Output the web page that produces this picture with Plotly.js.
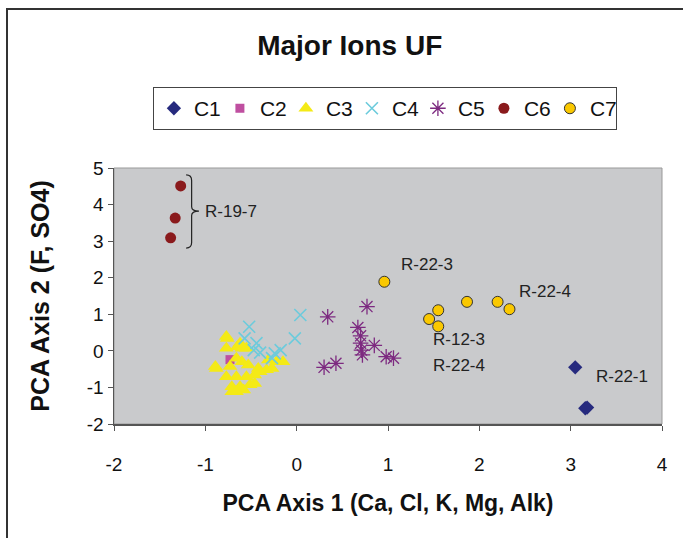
<!DOCTYPE html>
<html>
<head>
<meta charset="utf-8">
<script src="https://cdn.plot.ly/plotly-3.0.1.min.js"></script>
<style>
html,body{margin:0;padding:0;background:#fff;overflow:hidden;}
#wrap{position:relative;width:683px;height:538px;}
#chart{position:absolute;left:0;top:0;width:683px;height:538px;}
#frame{position:absolute;left:6px;top:8px;width:700px;height:600px;border-top:2px solid #333;border-left:2px solid #333;pointer-events:none;}
</style>
</head>
<body>
<div id="wrap"><div id="chart"></div><div id="frame"></div></div>
<script>
// ---- data ----
const seriesNames = ["C1","C2","C3","C4","C5","C6","C7"];

const c1X = [3.05, 3.16, 3.18];
const c1Y = [-0.45, -1.57, -1.55];

const c2X = [-0.73];
const c2Y = [-0.24];

const c3X = [-0.76,-0.77,-0.65,-0.60,-0.55,-0.66,-0.60,-0.88,-0.73,-0.53,-0.42,-0.77,-0.66,-0.55,-0.46,-0.40,-0.71,-0.62,-0.51,-0.46,-0.71,-0.66,-0.58,-0.33,-0.31,-0.22,-0.27,-0.77,-0.62,-0.89,-0.15];
const c3Y = [0.34,0.07,0.11,0.07,0.07,-0.20,-0.30,-0.48,-0.43,-0.39,-0.48,-0.71,-0.71,-0.71,-0.66,-0.57,-0.98,-0.98,-0.93,-0.89,-1.12,-1.12,-1.07,-0.52,-0.25,-0.30,-0.48,0.39,0.21,-0.43,-0.30];

const c4X = [0.04,-0.52,-0.57,-0.44,-0.47,-0.24,-0.175,-0.02,-0.27,-0.40];
const c4Y = [0.98,0.66,0.34,0.21,0.02,-0.07,0.02,0.34,-0.20,-0.05];

const c5X = [0.34,0.77,0.67,0.70,0.70,0.71,0.72,0.85,0.98,1.06,0.30,0.43];
const c5Y = [0.93,1.21,0.64,0.41,0.21,0.02,-0.11,0.15,-0.16,-0.20,-0.45,-0.34];

const c6X = [-1.27,-1.33,-1.38];
const c6Y = [4.51,3.63,3.09];

const c7X = [0.96,1.865,2.20,2.33,1.55,1.45,1.55];
const c7Y = [1.89,1.34,1.34,1.14,1.11,0.87,0.67];

const labelText = ["R-19-7","R-22-3","R-22-4","R-12-3","R-22-4","R-22-1"];
const labelX = [-1.03, 1.43, 2.72, 1.78, 1.78, 3.56];
const labelY = [3.82, 2.35, 1.61, 0.32, -0.39, -0.69];

const xTickVals = [-2,-1,0,1,2,3,4];
const xTickText = ["-2","-1","0","1","2","3","4"];
const yTickVals = [-2,-1,0,1,2,3,4,5];
const yTickText = ["-2","-1","0","1","2","3","4","5"];

// ---- traces ----
const FONT = "Arial, 'Liberation Sans', sans-serif";
const traces = [
  {x:c1X,y:c1Y,name:seriesNames[0],mode:"markers",type:"scatter",
   marker:{symbol:"diamond",size:11,color:"#262a7e"}},
  {x:c2X,y:c2Y,name:seriesNames[1],mode:"markers",type:"scatter",
   marker:{symbol:"square",size:9,color:"#bf4fa0"}},
  {x:c3X,y:c3Y,name:seriesNames[2],mode:"markers",type:"scatter",
   marker:{symbol:"triangle-up",size:13,color:"#f4ea16"}},
  {x:c4X,y:c4Y,name:seriesNames[3],mode:"markers",type:"scatter",
   marker:{symbol:"x-thin-open",size:12,color:"#6ccbdc",line:{color:"#6ccbdc",width:1.6}}},
  {x:c5X,y:c5Y,name:seriesNames[4],mode:"markers",type:"scatter",
   marker:{symbol:"asterisk-open",size:13,color:"#7d2a80",line:{color:"#7d2a80",width:1.3}}},
  {x:c6X,y:c6Y,name:seriesNames[5],mode:"markers",type:"scatter",
   marker:{symbol:"circle",size:11,color:"#8a1a1c"}},
  {x:c7X,y:c7Y,name:seriesNames[6],mode:"markers",type:"scatter",
   marker:{symbol:"circle",size:11,color:"#fac800",line:{color:"#333",width:1}}}
];

const annotations = labelText.map((t,i)=>({
  x:labelX[i], y:labelY[i], xref:"x", yref:"y", text:t, showarrow:false,
  xanchor: i===0 ? "left" : "center", yanchor:"middle",
  font:{family:FONT,size:17,color:"#222"}
}));

// brace for R-19-7 (decoration)
const bx0=-1.21, bx1=-1.15, bx2=-1.07, byT=4.81, byM=3.82, byB=2.81;
const bracePath = `M ${bx0},${byT} Q ${bx1},${byT} ${bx1},${byT-0.15} L ${bx1},${byM+0.12} Q ${bx1},${byM} ${bx2},${byM} Q ${bx1},${byM} ${bx1},${byM-0.12} L ${bx1},${byB+0.15} Q ${bx1},${byB} ${bx0},${byB}`;

const layout = {
  width:683, height:538,
  margin:{l:114,r:21,t:168,b:114,pad:0},
  paper_bgcolor:"#ffffff",
  plot_bgcolor:"#c9cacc",
  font:{family:FONT,color:"#111"},
  title:{text:"<b>Major Ions UF</b>",x:0.512,xanchor:"center",y:0.916,yanchor:"middle",
         font:{family:FONT,size:28,color:"#111"}},
  showlegend:true,
  legend:{orientation:"h",x:0.071,xanchor:"left",y:1.316,yanchor:"top",
          bgcolor:"#fff",bordercolor:"#444",borderwidth:1,
          font:{family:FONT,size:21,color:"#111"},
          traceorder:"normal",itemwidth:30,entrywidth:21,entrywidthmode:"pixels"},
  xaxis:{range:[-2,4],tickvals:xTickVals,ticktext:xTickText,
         showgrid:false,zeroline:false,showline:true,linecolor:"#555",linewidth:1.5,
         ticks:"outside",ticklen:5,tickcolor:"#555",ticklabelstandoff:18,
         tickfont:{family:FONT,size:19,color:"#111"},
         title:{text:"<b>PCA Axis 1 (Ca, Cl, K, Mg, Alk)</b>",font:{family:FONT,size:23,color:"#111"},standoff:20}},
  yaxis:{range:[-2,5],tickvals:yTickVals,ticktext:yTickText,
         showgrid:false,zeroline:false,showline:true,linecolor:"#555",linewidth:1.5,
         ticks:"outside",ticklen:5,tickcolor:"#555",
         tickfont:{family:FONT,size:19,color:"#111"},
         title:{text:"<b>PCA Axis 2 (F, SO4)</b>",font:{family:FONT,size:25,color:"#111"},standoff:30}},
  annotations:annotations,
  shapes:[
    {type:"rect",xref:"paper",yref:"paper",x0:0,x1:1,y0:0,y1:1,line:{color:"#999",width:1},layer:"below"},
    {type:"path",xref:"x",yref:"y",path:bracePath,line:{color:"#222",width:1.2}}
  ]
};

Plotly.newPlot("chart",traces,layout,{displayModeBar:false,staticPlot:true});
</script>
</body>
</html>
